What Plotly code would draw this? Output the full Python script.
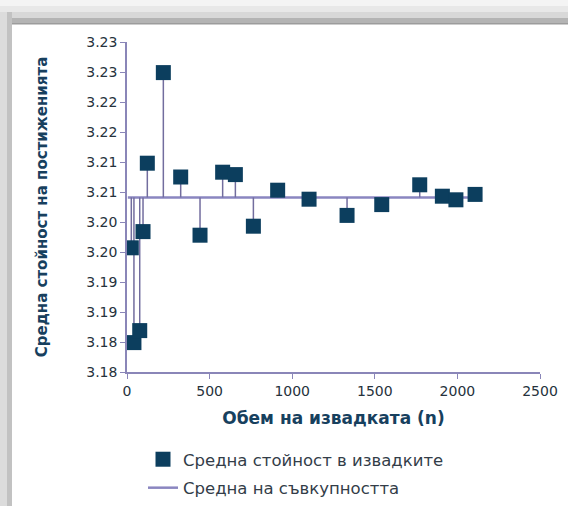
import plotly.graph_objects as go

# ---- data ----
sample_n = [26, 42, 77, 97, 123, 220, 325, 442, 579, 656, 765, 912,
            1102, 1332, 1542, 1772, 1909, 1991, 2107]
sample_mean = [3.1957, 3.1799, 3.1819, 3.1984, 3.2098, 3.2249, 3.2075, 3.1978,
               3.2083, 3.2079, 3.1993, 3.2053, 3.2038, 3.2011, 3.2029, 3.2062,
               3.2043, 3.2037, 3.2046]
pop_x = [5, 2107]
pop_mean_value = 3.2041

y_tickvals = [3.175, 3.180, 3.185, 3.190, 3.195, 3.200, 3.205, 3.210,
              3.215, 3.220, 3.225, 3.230]
y_ticktext = ["3.18", "3.18", "3.19", "3.19", "3.20", "3.20", "3.21", "3.21",
              "3.22", "3.22", "3.23", "3.23"]
x_tickvals = [0, 500, 1000, 1500, 2000, 2500]

# ---- figure ----
W, H = 568, 506
ML, MR, MT, MB = 127, 28, 42, 134
PW, PH = W - ML - MR, H - MT - MB

def px_x(p):
    return (p - ML) / PW

def px_y(p):
    return (H - MB - p) / PH

err_plus = [max(pop_mean_value - v, 0) for v in sample_mean]
err_minus = [max(v - pop_mean_value, 0) for v in sample_mean]

line_col = "#8a86c0"
fig = go.Figure()
fig.add_trace(go.Scatter(
    x=pop_x, y=[pop_mean_value] * len(pop_x), mode="lines",
    name="Средна на съвкупността",
    line=dict(color=line_col, width=2.5),
    legendrank=2, legendgroup="b",
))
fig.add_trace(go.Scatter(
    x=sample_n, y=sample_mean, mode="markers",
    name="Средна стойност в извадките",
    marker=dict(symbol="square", size=15, color="#0c3e5e"),
    error_y=dict(type="data", symmetric=False, array=err_plus,
                 arrayminus=err_minus, width=0, thickness=1.5,
                 color="#726d9e"),
    legendrank=1, legendgroup="a",
))

# frame shading (top and left)
shapes = []
bands_top = [(0, 6, "#f4f4f4"), (6, 12, "#e8e8e8"), (12, 18, "#d8d8d8"),
             (18, 23, "#b4b4b4"), (23, 24.5, "#9c9c9c")]
for y0, y1, c in bands_top:
    shapes.append(dict(type="rect", xref="paper", yref="paper",
                       x0=px_x(0), x1=px_x(W), y0=px_y(y1), y1=px_y(y0),
                       fillcolor=c, line=dict(width=0), layer="below"))
bands_left = [(0, 7, "#dcdcdc"), (7, 12, "#c2c2c2")]
for x0, x1, c in bands_left:
    shapes.append(dict(type="rect", xref="paper", yref="paper",
                       x0=px_x(x0), x1=px_x(x1), y0=px_y(H), y1=px_y(12),
                       fillcolor=c, line=dict(width=0), layer="below"))

axis_col = "#8a86b8"
tick_font = dict(family="DejaVu Sans", size=14, color="#26323c")
xtitle_font = dict(family="DejaVu Sans", size=17, color="#17405e")
ytitle_font = dict(family="DejaVu Sans", size=15, color="#17405e")

fig.update_layout(
    width=W, height=H,
    margin=dict(l=ML, r=MR, t=MT, b=MB, autoexpand=False),
    paper_bgcolor="white", plot_bgcolor="white",
    shapes=shapes,
    showlegend=True,
    legend=dict(x=px_x(143), xanchor="left", y=px_y(442), yanchor="top",
                traceorder="grouped", tracegroupgap=4,
                font=dict(family="DejaVu Sans", size=16.5, color="#333d48"),
                bgcolor="rgba(0,0,0,0)"),
    xaxis=dict(range=[0, 2500], tickvals=x_tickvals, ticks="outside",
               ticklen=5, tickcolor=axis_col, showline=True, linecolor=axis_col,
               linewidth=1.5, showgrid=False, zeroline=False, tickfont=tick_font,
               title=dict(text="<b>Обем на извадката (n)</b>", font=xtitle_font,
                          standoff=15)),
    yaxis=dict(range=[3.175, 3.230], tickvals=y_tickvals, ticktext=y_ticktext,
               ticks="outside", ticklen=5, tickcolor=axis_col, showline=True,
               linecolor=axis_col, linewidth=1.5, showgrid=False, zeroline=False,
               tickfont=tick_font,
               title=dict(text="<b>Средна стойност на постиженията</b>",
                          font=ytitle_font, standoff=35)),
)

fig.write_html("out.html", config={"displayModeBar": False},
               post_script="document.body.style.margin='0';"
                           "document.body.style.overflow='hidden';")
